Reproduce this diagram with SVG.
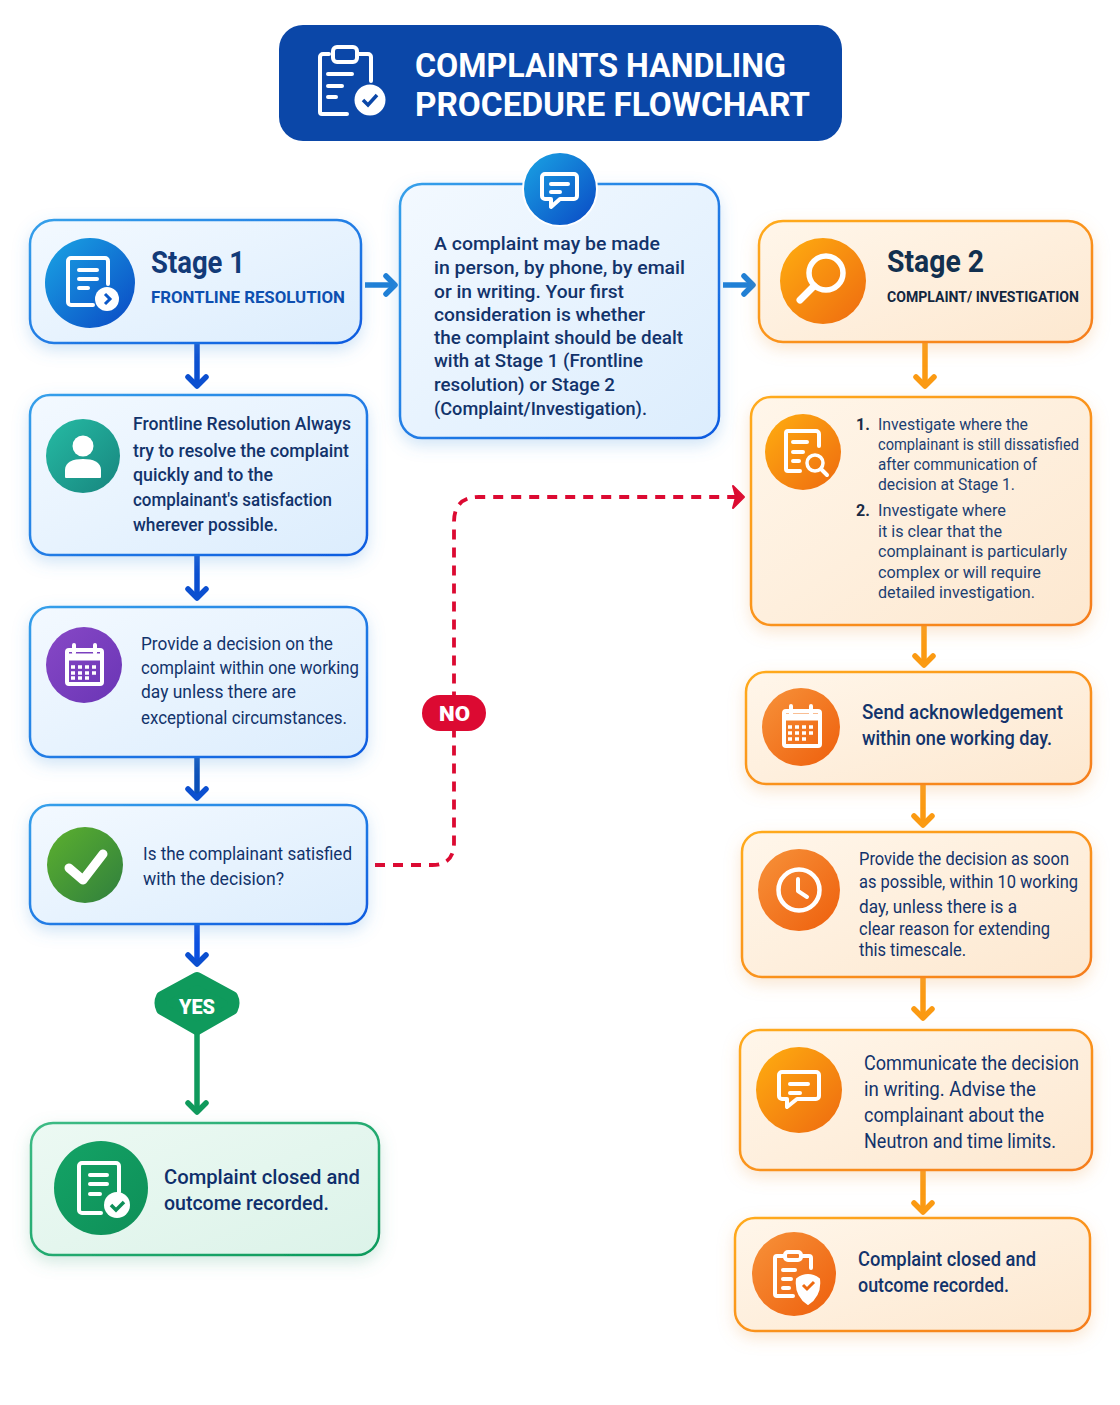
<svg xmlns="http://www.w3.org/2000/svg" width="1120" height="1405" viewBox="0 0 1120 1405">
<style>
text{font-family:Roboto,"Liberation Sans",sans-serif;fill:#12336b;font-size:18.5px;font-weight:500}
#decision-day text,#satisfied text,#decision-10 text,#communicate text{font-weight:400}
.title{fill:#fff;font-size:33px;font-weight:700}
.h{font-size:31px;font-weight:700;fill:#123a78}
.h2{font-size:31px;font-weight:700;fill:#12304f}
.sub{font-size:16px;font-weight:700;fill:#0d4fb0}
.sub2{font-size:15.5px;font-weight:700;fill:#12263f}
.sm{font-size:16.5px;font-weight:400;fill:#1c3f72}
.num{font-size:16px;font-weight:700;fill:#1b2b45}
.big{font-size:20.5px;fill:#0f2f6b}
.big2{font-size:19.5px;fill:#12336b}
.pill{fill:#fff;font-size:21px;font-weight:900;text-anchor:middle}
.blue{fill:url(#fb);stroke:url(#sb);stroke-width:2.5;filter:url(#sh1)}
.orange{fill:url(#fo);stroke:url(#so);stroke-width:2.5;filter:url(#sh2)}
.green{fill:url(#fg);stroke:url(#sg);stroke-width:2.5;filter:url(#sh3)}
.ic{fill:none;stroke:#fff;stroke-width:4;stroke-linecap:round;stroke-linejoin:round}
.band{fill:none;stroke:#fff;stroke-width:7}
.w{fill:#fff}
.conn{fill:none;stroke-width:5.5}
.dash{fill:none;stroke:#dc0a32;stroke-width:3.8;stroke-dasharray:10 8}
</style>
<defs>
<linearGradient id="fb" x1="0" y1="0" x2="1" y2="1"><stop offset="0" stop-color="#f3f9ff"/><stop offset="1" stop-color="#dcedfd"/></linearGradient>
<linearGradient id="fo" x1="0" y1="0" x2="1" y2="1"><stop offset="0" stop-color="#fff6ea"/><stop offset="1" stop-color="#fde8d0"/></linearGradient>
<linearGradient id="fg" x1="0" y1="0" x2="1" y2="1"><stop offset="0" stop-color="#ecf9f3"/><stop offset="1" stop-color="#dcf3e9"/></linearGradient>
<linearGradient id="sb" x1="0" y1="0" x2="1" y2="1"><stop offset="0" stop-color="#35a0ea"/><stop offset="1" stop-color="#0f5be0"/></linearGradient>
<linearGradient id="so" x1="0" y1="0" x2="1" y2="1"><stop offset="0" stop-color="#ffab1f"/><stop offset="1" stop-color="#f57d1a"/></linearGradient>
<linearGradient id="sg" x1="0" y1="0" x2="1" y2="1"><stop offset="0" stop-color="#3dbb85"/><stop offset="1" stop-color="#0b9a5c"/></linearGradient>
<linearGradient id="ib" x1="0" y1="0" x2="1" y2="1"><stop offset="0" stop-color="#1aa5e4"/><stop offset="1" stop-color="#0a48c4"/></linearGradient>
<linearGradient id="io" x1="0" y1="0" x2="1" y2="1"><stop offset="0" stop-color="#ffae10"/><stop offset="1" stop-color="#ee6a10"/></linearGradient>
<linearGradient id="io2" x1="0" y1="0" x2="1" y2="1"><stop offset="0" stop-color="#f7923a"/><stop offset="1" stop-color="#ee5f0c"/></linearGradient>
<linearGradient id="it" x1="0" y1="0" x2="1" y2="1"><stop offset="0" stop-color="#26bba4"/><stop offset="1" stop-color="#17857e"/></linearGradient>
<linearGradient id="ip" x1="0" y1="0" x2="1" y2="1"><stop offset="0" stop-color="#8748c6"/><stop offset="1" stop-color="#6a35b5"/></linearGradient>
<linearGradient id="ig" x1="0" y1="0" x2="1" y2="1"><stop offset="0" stop-color="#5cb02e"/><stop offset="1" stop-color="#2f7f3e"/></linearGradient>
<linearGradient id="ig2" x1="0" y1="0" x2="1" y2="1"><stop offset="0" stop-color="#14a366"/><stop offset="1" stop-color="#0e8f58"/></linearGradient>
<filter id="sh1" x="-15%" y="-15%" width="130%" height="140%"><feDropShadow dx="0" dy="6" stdDeviation="8" flood-color="#5a9fe0" flood-opacity=".28"/></filter>
<filter id="sh2" x="-15%" y="-15%" width="130%" height="140%"><feDropShadow dx="0" dy="6" stdDeviation="8" flood-color="#eda860" flood-opacity=".28"/></filter>
<filter id="sh3" x="-15%" y="-15%" width="130%" height="140%"><feDropShadow dx="0" dy="6" stdDeviation="8" flood-color="#60b090" flood-opacity=".28"/></filter>
<marker id="aB" markerUnits="userSpaceOnUse" markerWidth="30" markerHeight="30" refX="13" refY="15" orient="auto"><path d="M5 6 14 15 5 24" fill="none" stroke="#0b4fd0" stroke-width="5.5" stroke-linejoin="round" stroke-linecap="round"/></marker>
<marker id="aL" markerUnits="userSpaceOnUse" markerWidth="30" markerHeight="30" refX="13" refY="15" orient="auto"><path d="M5 6 14 15 5 24" fill="none" stroke="#1f7fd6" stroke-width="5.5" stroke-linejoin="round" stroke-linecap="round"/></marker>
<marker id="aO" markerUnits="userSpaceOnUse" markerWidth="30" markerHeight="30" refX="13" refY="15" orient="auto"><path d="M5 6 14 15 5 24" fill="none" stroke="#fb9a12" stroke-width="5.5" stroke-linejoin="round" stroke-linecap="round"/></marker>
<marker id="aG" markerUnits="userSpaceOnUse" markerWidth="30" markerHeight="30" refX="13" refY="15" orient="auto"><path d="M5 6 14 15 5 24" fill="none" stroke="#0f9a5c" stroke-width="5.5" stroke-linejoin="round" stroke-linecap="round"/></marker>
<marker id="aR" markerUnits="userSpaceOnUse" markerWidth="30" markerHeight="30" refX="20" refY="15" orient="auto"><path d="M9 4 20 15 9 26 12 15Z" fill="#dc0a32" stroke="#dc0a32" stroke-width="2" stroke-linejoin="round"/></marker>
</defs>
<rect width="1120" height="1405" fill="#fff"/>

<g id="connectors">
<path class="conn" stroke="#0b4fd0" d="M197 343V385" marker-end="url(#aB)"/>
<path class="conn" stroke="#0b4fd0" d="M197 555V597" marker-end="url(#aB)"/>
<path class="conn" stroke="#0b50b8" d="M197 757V797" marker-end="url(#aB)"/>
<path class="conn" stroke="#0b4fe0" d="M197 924V963" marker-end="url(#aB)"/>
<path class="conn" stroke="#0f9a5c" d="M197 1030V1111" marker-end="url(#aG)"/>
<path class="conn" stroke="#1f7fd6" d="M365 285H394" marker-end="url(#aL)"/>
<path class="conn" stroke="#1f7fd6" d="M723 285H752" marker-end="url(#aL)"/>
<path class="conn" stroke="#fb9a12" d="M925 343V385" marker-end="url(#aO)"/>
<path class="conn" stroke="#fb9a12" d="M924 625V664" marker-end="url(#aO)"/>
<path class="conn" stroke="#fb9a12" d="M923 784V824" marker-end="url(#aO)"/>
<path class="conn" stroke="#fb9a12" d="M923 977V1017" marker-end="url(#aO)"/>
<path class="conn" stroke="#fb9a12" d="M923 1170V1211" marker-end="url(#aO)"/>
<path class="dash" d="M375 865H432Q454 865 454 843V522Q454 497 479 497H744" marker-end="url(#aR)"/>
</g>

<g id="title">
<rect x="279" y="25" width="563" height="116" rx="24" fill="#0b47a8"/>
<path class="ic" d="M329 54h-6a3 3 0 0 0-3 3v55a2 2 0 0 0 2 2h25M359 54h9a3 3 0 0 1 3 3v24"/>
<rect class="ic" x="333" y="47" width="24" height="15" rx="4"/>
<path class="ic" d="M328 74h24M328 86h14M328 97h8"/>
<circle class="w" cx="370" cy="100" r="15.5"/>
<path fill="none" stroke="#0b47a8" stroke-width="3.5" d="M363 100l5 5 9-10"/>
<text class="title" x="415" y="76.5" textLength="371" lengthAdjust="spacingAndGlyphs">COMPLAINTS HANDLING</text>
<text class="title" x="415" y="115.5" textLength="395" lengthAdjust="spacingAndGlyphs">PROCEDURE FLOWCHART</text>
</g>

<g id="stage1">
<rect class="blue" x="30" y="220" width="331" height="123" rx="24"/>
<circle cx="90" cy="283" r="45" fill="url(#ib)"/>
<path class="ic" d="M108 284v-23a3 3 0 0 0-3-3H71a3 3 0 0 0-3 3v41a3 3 0 0 0 3 3h22"/>
<path class="ic" d="M79 270h18M79 279h18M79 288h9"/>
<circle class="w" cx="107" cy="299" r="12"/>
<path fill="none" stroke="#0a58c8" stroke-width="3" d="M105 294l5 5-5 5"/>
<text class="h" x="151" y="273" textLength="94" lengthAdjust="spacingAndGlyphs">Stage 1</text>
<text class="sub" x="151" y="303" textLength="194" lengthAdjust="spacingAndGlyphs">FRONTLINE RESOLUTION</text>
</g>

<g id="intro">
<rect class="blue" x="400" y="184" width="319" height="254" rx="22"/>
<circle cx="560" cy="189" r="37" fill="url(#ib)" stroke="#fff" stroke-width="2"/>
<path class="ic" d="M545 174h29a3 3 0 0 1 3 3v19a3 3 0 0 1-3 3h-14l-9 8v-8h-6a3 3 0 0 1-3-3v-19a3 3 0 0 1 3-3z"/>
<path class="ic" d="M551 184h17M551 192h9"/>
<text x="434" y="250" textLength="226" lengthAdjust="spacingAndGlyphs">A complaint may be made</text>
<text x="434" y="274" textLength="251" lengthAdjust="spacingAndGlyphs">in person, by phone, by email</text>
<text x="434" y="298" textLength="190" lengthAdjust="spacingAndGlyphs">or in writing. Your first</text>
<text x="434" y="321" textLength="211" lengthAdjust="spacingAndGlyphs">consideration is whether</text>
<text x="434" y="344" textLength="249" lengthAdjust="spacingAndGlyphs">the complaint should be dealt</text>
<text x="434" y="367" textLength="209" lengthAdjust="spacingAndGlyphs">with at Stage 1 (Frontline</text>
<text x="434" y="391" textLength="181" lengthAdjust="spacingAndGlyphs">resolution) or Stage 2</text>
<text x="434" y="415" textLength="213" lengthAdjust="spacingAndGlyphs">(Complaint/Investigation).</text>
</g>

<g id="stage2">
<rect class="orange" x="759" y="221" width="333" height="121" rx="24"/>
<circle cx="823" cy="281" r="43" fill="url(#io)"/>
<circle cx="826" cy="273" r="17" fill="none" stroke="#fff" stroke-width="5.5"/>
<path fill="none" stroke="#fff" stroke-width="7" stroke-linecap="round" d="M814 286l-14 14"/>
<text class="h2" x="887" y="272" textLength="97" lengthAdjust="spacingAndGlyphs">Stage 2</text>
<text class="sub2" x="887" y="302" textLength="192" lengthAdjust="spacingAndGlyphs">COMPLAINT/ INVESTIGATION</text>
</g>

<g id="frontline">
<rect class="blue" x="30" y="395" width="337" height="160" rx="20"/>
<circle cx="83" cy="456" r="37" fill="url(#it)"/>
<circle class="w" cx="83" cy="446" r="10.5"/>
<path class="w" d="M65 477v-7c0-8 8-11 18-11s18 3 18 11v7a1 1 0 0 1-1 1H66a1 1 0 0 1-1-1z"/>
<text x="133" y="430" textLength="218" lengthAdjust="spacingAndGlyphs">Frontline Resolution Always</text>
<text x="133" y="457" textLength="216" lengthAdjust="spacingAndGlyphs">try to resolve the complaint</text>
<text x="133" y="481" textLength="140" lengthAdjust="spacingAndGlyphs">quickly and to the</text>
<text x="133" y="506" textLength="199" lengthAdjust="spacingAndGlyphs">complainant's satisfaction</text>
<text x="133" y="531" textLength="145" lengthAdjust="spacingAndGlyphs">wherever possible.</text>
</g>

<g id="decision-day">
<rect class="blue" x="30" y="607" width="337" height="150" rx="20"/>
<circle cx="84" cy="665" r="38" fill="url(#ip)"/>
<rect class="ic" x="67" y="650" width="35" height="34" rx="2"/>
<path class="band" d="M67 657h35"/>
<path class="ic" d="M74 645v8M95 645v8"/>
<path fill="none" stroke="#fff" stroke-width="3.5" stroke-dasharray="4 3" d="M71 667h27M71 673h27M71 678h20"/>
<text x="141" y="650" textLength="192" lengthAdjust="spacingAndGlyphs">Provide a decision on the</text>
<text x="141" y="674" textLength="218" lengthAdjust="spacingAndGlyphs">complaint within one working</text>
<text x="141" y="698" textLength="155" lengthAdjust="spacingAndGlyphs">day unless there are</text>
<text x="141" y="724" textLength="206" lengthAdjust="spacingAndGlyphs">exceptional circumstances.</text>
</g>

<g id="satisfied">
<rect class="blue" x="30" y="805" width="337" height="119" rx="20"/>
<circle cx="85" cy="865" r="38" fill="url(#ig)"/>
<path fill="none" stroke="#fff" stroke-width="9" stroke-linecap="round" stroke-linejoin="round" d="M69 868l14 12 20-26"/>
<text x="143" y="860" textLength="209" lengthAdjust="spacingAndGlyphs">Is the complainant satisfied</text>
<text x="143" y="885" textLength="141" lengthAdjust="spacingAndGlyphs">with the decision?</text>
</g>

<g id="no-label">
<rect x="422" y="695" width="64" height="36" rx="18" fill="#dc0a32"/>
<text class="pill" x="454.5" y="721" textLength="31" lengthAdjust="spacingAndGlyphs">NO</text>
</g>

<g id="yes-label">
<path d="M197 978 232 997Q235 1003 232 1009L197 1029 162 1009Q159 1003 162 997Z" fill="#0f9a5c" stroke="#0f9a5c" stroke-width="12" stroke-linejoin="round"/>
<text class="pill" x="197" y="1014" textLength="36" lengthAdjust="spacingAndGlyphs">YES</text>
</g>

<g id="closed-left">
<rect class="green" x="31" y="1123" width="348" height="132" rx="22"/>
<circle cx="101" cy="1188" r="47" fill="url(#ig2)"/>
<path class="ic" d="M119 1192v-26a3 3 0 0 0-3-3H82a3 3 0 0 0-3 3v44a3 3 0 0 0 3 3h19"/>
<path class="ic" d="M90 1175h17M90 1184h17M90 1194h10"/>
<circle class="w" cx="117" cy="1205" r="13"/>
<path fill="none" stroke="#0e8f58" stroke-width="3.5" d="M111 1205l5 5 8-8"/>
<text class="big" x="164" y="1184" textLength="196" lengthAdjust="spacingAndGlyphs">Complaint closed and</text>
<text class="big" x="164" y="1210" textLength="165" lengthAdjust="spacingAndGlyphs">outcome recorded.</text>
</g>

<g id="investigate">
<rect class="orange" x="751" y="397" width="340" height="228" rx="20"/>
<circle cx="803" cy="452" r="38" fill="url(#io)"/>
<path class="ic" d="M819 446v-12a3 3 0 0 0-3-3h-28a2 2 0 0 0-2 2v36a2 2 0 0 0 2 2h12"/>
<path class="ic" d="M793 442h14M793 452h10M793 461h6"/>
<circle cx="815" cy="463" r="8" fill="none" stroke="#fff" stroke-width="3.5"/>
<path class="ic" d="M821 469l6 6"/>
<text class="num" x="856" y="430">1.</text>
<text class="sm" x="878" y="430" textLength="150" lengthAdjust="spacingAndGlyphs">Investigate where the</text>
<text class="sm" x="878" y="450" textLength="201" lengthAdjust="spacingAndGlyphs">complainant is still dissatisfied</text>
<text class="sm" x="878" y="470" textLength="159" lengthAdjust="spacingAndGlyphs">after communication of</text>
<text class="sm" x="878" y="490" textLength="137" lengthAdjust="spacingAndGlyphs">decision at Stage 1.</text>
<text class="num" x="856" y="516">2.</text>
<text class="sm" x="878" y="516" textLength="128" lengthAdjust="spacingAndGlyphs">Investigate where</text>
<text class="sm" x="878" y="537" textLength="124" lengthAdjust="spacingAndGlyphs">it is clear that the</text>
<text class="sm" x="878" y="557" textLength="189" lengthAdjust="spacingAndGlyphs">complainant is particularly</text>
<text class="sm" x="878" y="578" textLength="163" lengthAdjust="spacingAndGlyphs">complex or will require</text>
<text class="sm" x="878" y="598" textLength="157" lengthAdjust="spacingAndGlyphs">detailed investigation.</text>
</g>

<g id="acknowledge">
<rect class="orange" x="746" y="672" width="345" height="112" rx="20"/>
<circle cx="801" cy="727" r="39" fill="url(#io2)"/>
<rect class="ic" x="784" y="711" width="36" height="35" rx="2"/>
<path class="band" d="M784 717h36"/>
<path class="ic" d="M791 706v8M811 706v8"/>
<path fill="none" stroke="#fff" stroke-width="3.5" stroke-dasharray="4 3" d="M788 727h28M788 733h28M788 739h20"/>
<text class="big2" x="862" y="719" textLength="201" lengthAdjust="spacingAndGlyphs">Send acknowledgement</text>
<text class="big2" x="862" y="745" textLength="190" lengthAdjust="spacingAndGlyphs">within one working day.</text>
</g>

<g id="decision-10">
<rect class="orange" x="742" y="832" width="349" height="145" rx="20"/>
<circle cx="799" cy="890" r="41" fill="url(#io2)"/>
<circle cx="799" cy="890" r="20.5" fill="none" stroke="#fff" stroke-width="4.5"/>
<path fill="none" stroke="#fff" stroke-width="4" stroke-linecap="round" stroke-linejoin="round" d="M798 879v12l9 6"/>
<text x="859" y="865" textLength="210" lengthAdjust="spacingAndGlyphs">Provide the decision as soon</text>
<text x="859" y="888" textLength="219" lengthAdjust="spacingAndGlyphs">as possible, within 10 working</text>
<text x="859" y="913" textLength="158" lengthAdjust="spacingAndGlyphs">day, unless there is a</text>
<text x="859" y="935" textLength="191" lengthAdjust="spacingAndGlyphs">clear reason for extending</text>
<text x="859" y="956" textLength="107" lengthAdjust="spacingAndGlyphs">this timescale.</text>
</g>

<g id="communicate">
<rect class="orange" x="740" y="1030" width="352" height="140" rx="20"/>
<circle cx="799" cy="1090" r="43" fill="url(#io)"/>
<path class="ic" d="M782 1072h34a3 3 0 0 1 3 3v21a3 3 0 0 1-3 3h-19l-10 8v-8h-5a3 3 0 0 1-3-3v-21a3 3 0 0 1 3-3z"/>
<path class="ic" d="M790 1084h18M790 1093h10"/>
<text class="big2" x="864" y="1070" textLength="215" lengthAdjust="spacingAndGlyphs">Communicate the decision</text>
<text class="big2" x="864" y="1096" textLength="172" lengthAdjust="spacingAndGlyphs">in writing. Advise the</text>
<text class="big2" x="864" y="1122" textLength="180" lengthAdjust="spacingAndGlyphs">complainant about the</text>
<text class="big2" x="864" y="1148" textLength="192" lengthAdjust="spacingAndGlyphs">Neutron and time limits.</text>
</g>

<g id="closed-right">
<rect class="orange" x="735" y="1218" width="355" height="113" rx="20"/>
<circle cx="794" cy="1274" r="42" fill="url(#io2)"/>
<path class="ic" d="M783 1256h-6a2 2 0 0 0-2 2v36a2 2 0 0 0 2 2h16M803 1256h6a2 2 0 0 1 2 2v10"/>
<rect class="ic" x="785" y="1252" width="16" height="8" rx="3"/>
<path class="ic" d="M783 1270h12M783 1279h8M783 1288h6"/>
<path class="w" d="M797 1279q11-8 22 0 2 16-11 25-13-9-11-25z" stroke="#fff" stroke-width="2" stroke-linejoin="round"/>
<path fill="none" stroke="#ee6a10" stroke-width="3" d="M803 1285l4 4 7-7"/>
<text class="big2" x="858" y="1266" textLength="178" lengthAdjust="spacingAndGlyphs">Complaint closed and</text>
<text class="big2" x="858" y="1292" textLength="151" lengthAdjust="spacingAndGlyphs">outcome recorded.</text>
</g>
</svg>
